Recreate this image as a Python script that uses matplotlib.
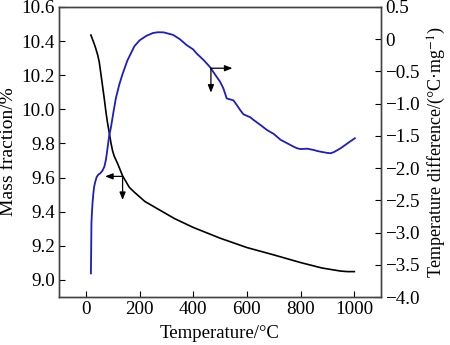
import matplotlib
matplotlib.use("Agg")
import matplotlib.pyplot as plt
from matplotlib.ticker import FixedLocator, FixedFormatter

plt.rcParams['font.family'] = ['Liberation Serif', 'DejaVu Serif']
plt.rcParams['mathtext.fontset'] = 'stix'

# TG curve: mass fraction vs temperature
tg_temp = [19, 25, 31, 37, 44, 50, 56, 62, 69, 75, 81, 87, 94, 100, 106, 119, 137, 162,
           181, 220, 275, 330, 400, 500, 600, 700, 800, 880, 950, 975, 1000]
tg_mass = [10.435, 10.41, 10.385, 10.357, 10.32, 10.278, 10.21, 10.141, 10.06, 9.984,
           9.92, 9.866, 9.80, 9.755, 9.725, 9.68, 9.61, 9.543, 9.514, 9.46, 9.41, 9.36,
           9.308, 9.245, 9.19, 9.147, 9.102, 9.07, 9.052, 9.049, 9.049]

# DTA curve: temperature difference vs temperature
dta_temp = [19, 20, 21, 23, 25, 28, 31, 36, 41, 47, 54, 62, 69, 75, 80, 87, 94, 103, 112,
            125, 137, 155, 181, 200, 225, 250, 269, 290, 325, 350, 375, 400, 412, 425,
            440, 462, 480, 500, 512, 525, 538, 550, 562, 575, 587, 600, 612, 625, 650,
            675, 700, 725, 750, 775, 787, 800, 825, 850, 862, 880, 900, 912, 925, 950,
            975, 1002]
dta_diff = [-3.633, -3.27, -2.857, -2.68, -2.546, -2.40, -2.29, -2.20, -2.133, -2.10, -2.08,
            -2.04, -1.98, -1.87, -1.72, -1.50, -1.36, -1.13, -0.917, -0.70, -0.54, -0.33,
            -0.11, -0.02, 0.05, 0.095, 0.107, 0.105, 0.066, 0.00, -0.09, -0.16, -0.219,
            -0.27, -0.33, -0.43, -0.54, -0.66, -0.76, -0.92, -0.935, -0.95, -1.02, -1.10,
            -1.165, -1.19, -1.21, -1.254, -1.33, -1.41, -1.47, -1.56, -1.615, -1.67,
            -1.693, -1.705, -1.699, -1.72, -1.735, -1.75, -1.765, -1.77, -1.75, -1.69,
            -1.615, -1.537]

x_ticks = [0, 200, 400, 600, 800, 1000]
left_ticks = [9.0, 9.2, 9.4, 9.6, 9.8, 10.0, 10.2, 10.4, 10.6]
right_ticks = [0.5, 0, -0.5, -1.0, -1.5, -2.0, -2.5, -3.0, -3.5, -4.0]
right_labels = ['0.5', '0', '\u22120.5', '\u22121.0', '\u22121.5', '\u22122.0',
                '\u22122.5', '\u22123.0', '\u22123.5', '\u22124.0']

fig = plt.figure(figsize=(4.5, 3.45), dpi=100)
ax = fig.add_axes([0.131, 0.139, 0.716, 0.841])
ax2 = ax.twinx()

fs = 13.8
ax.plot(tg_temp, tg_mass, color='black', lw=1.2)
ax2.plot(dta_temp, dta_diff, color='#1c1cc8', lw=1.3)

ax.set_xlim(-100, 1100)
ax.set_ylim(8.9, 10.6)
ax2.set_ylim(-4.0, 0.5)

ax.xaxis.set_major_locator(FixedLocator(x_ticks))
ax.yaxis.set_major_locator(FixedLocator(left_ticks))
ax.set_yticklabels([f'{v:.1f}' for v in left_ticks])
ax2.yaxis.set_major_locator(FixedLocator(right_ticks))
ax2.yaxis.set_major_formatter(FixedFormatter(right_labels))

ax.tick_params(axis='both', direction='in', length=4, width=0.8, labelsize=fs, pad=3)
ax2.tick_params(axis='y', direction='in', length=4, width=0.8, labelsize=fs, pad=3)

ax.set_xlabel('Temperature/\u00b0C', fontsize=13.5, labelpad=5)
ax.set_ylabel('Mass fraction/%', fontsize=14, labelpad=3)
ax2.set_ylabel('Temperature difference/(\u00b0C\u00b7mg$^{-1}$)', fontsize=13, labelpad=4)

for a in (ax, ax2):
    for s in a.spines.values():
        s.set_color('#444444')
        s.set_linewidth(1.0)

# Direction markers pointing to the axis each curve belongs to
arrow = dict(arrowstyle='-|>,head_length=0.45,head_width=0.18', color='black', lw=0.9,
             shrinkA=0, shrinkB=0)
ax.annotate('', xy=(72, 9.607), xytext=(137, 9.607), arrowprops=arrow)
ax.annotate('', xy=(137, 9.469), xytext=(137, 9.607), arrowprops=arrow)
ax2.annotate('', xy=(546, -0.451), xytext=(466, -0.451), arrowprops=arrow)
ax2.annotate('', xy=(466, -0.83), xytext=(466, -0.451), arrowprops=arrow)

fig.savefig('out.png', dpi=100)
